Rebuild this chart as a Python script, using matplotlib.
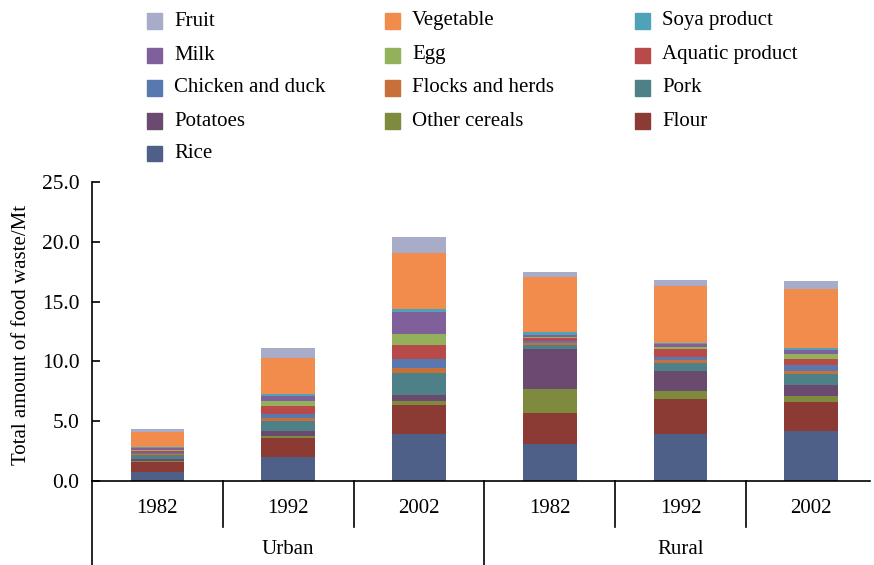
import matplotlib.pyplot as plt
from matplotlib.patches import Rectangle
import numpy as np

plt.rcParams['font.family'] = ['Liberation Serif', 'DejaVu Serif']

areas = ["Urban", "Rural"]
years = ["1982", "1992", "2002", "1982", "1992", "2002"]

# bottom to top
foods = ["Rice", "Flour", "Other cereals", "Potatoes", "Pork", "Flocks and herds",
         "Chicken and duck", "Aquatic product", "Egg", "Milk", "Soya product",
         "Vegetable", "Fruit"]

rice = [0.78, 2.03, 3.95, 3.12, 3.93, 4.15]
flour = [0.84, 1.56, 2.40, 2.57, 2.93, 2.48]
other_cereals = [0.08, 0.17, 0.31, 2.01, 0.64, 0.47]
potatoes = [0.15, 0.42, 0.55, 3.32, 1.70, 0.92]
pork = [0.30, 0.86, 1.79, 0.39, 0.70, 0.95]
flocks = [0.08, 0.25, 0.47, 0.17, 0.20, 0.22]
chicken = [0.10, 0.33, 0.70, 0.14, 0.28, 0.47]
aquatic = [0.15, 0.64, 1.22, 0.20, 0.64, 0.53]
egg = [0.10, 0.39, 0.87, 0.11, 0.20, 0.47]
milk = [0.15, 0.50, 1.89, 0.22, 0.20, 0.28]
soya = [0.08, 0.11, 0.25, 0.17, 0.14, 0.22]
vegetable = [1.25, 3.04, 4.63, 4.68, 4.77, 4.88]
fruit = [0.25, 0.79, 1.34, 0.42, 0.50, 0.67]

series = [rice, flour, other_cereals, potatoes, pork, flocks, chicken,
          aquatic, egg, milk, soya, vegetable, fruit]
colors = ["#4E6088", "#8C3A34", "#7E8A3E", "#6B4A70", "#4E8088", "#C8703A",
          "#5A78B0", "#B84A4A", "#93B05A", "#80609A", "#4FA3B8", "#F28C4C",
          "#A8ACC8"]
col_of = dict(zip(foods, colors))

W, H = 874, 565
fig = plt.figure(figsize=(W / 100, H / 100), dpi=100)
ax = fig.add_axes([0.1053, 0.1487, 0.8902, 0.529])

x = np.arange(len(years))
bottom = np.zeros(len(years))
for name, vals, c in zip(foods, series, colors):
    ax.bar(x, vals, 0.41, bottom=bottom, color=c, linewidth=0)
    bottom += np.array(vals)

ax.set_xlim(-0.5, 5.45)
ax.set_ylim(0, 25)
ax.set_yticks(np.arange(0, 26, 5))
ax.set_yticklabels(["%.1f" % v for v in np.arange(0, 26, 5)], fontsize=15.5)
ax.tick_params(axis='y', direction='in', length=6, width=1.2, pad=9)
ax.set_ylabel("Total amount of food waste/Mt", fontsize=15)
ax.yaxis.set_label_coords(-0.078, 0.49)

ax.set_xticks(x)
ax.set_xticklabels(years, fontsize=15)
ax.tick_params(axis='x', length=0, pad=13)

for s in ["top", "right"]:
    ax.spines[s].set_visible(False)
ax.spines["left"].set_linewidth(1.2)
ax.spines["bottom"].set_linewidth(1.2)

# separators under the axis
trans = ax.get_xaxis_transform()
for sx in [0.5, 1.5, 3.5, 4.5]:
    ax.plot([sx, sx], [0, -0.154], color="black", lw=1.2, transform=trans, clip_on=False)
for sx in [-0.5, 2.5]:
    ax.plot([sx, sx], [0, -0.30], color="black", lw=1.2, transform=trans, clip_on=False)
for gx, g in zip([1, 4], areas):
    ax.text(gx, -0.23, g, transform=trans, ha="center", va="center", fontsize=15)

# legend laid out by hand: 3 columns, row-wise
legend_rows = [["Fruit", "Vegetable", "Soya product"],
               ["Milk", "Egg", "Aquatic product"],
               ["Chicken and duck", "Flocks and herds", "Pork"],
               ["Potatoes", "Other cereals", "Flour"],
               ["Rice"]]
col_x = [147, 385, 635]
row_y = [21, 55, 88, 121, 154]
sq = 15
for r, names in enumerate(legend_rows):
    for c, name in enumerate(names):
        px, py = col_x[c], row_y[r]
        fig.patches.append(Rectangle((px / W, 1 - (py + sq / 2) / H), sq / W, sq / H,
                                     transform=fig.transFigure, color=col_of[name]))
        fig.text((px + 27) / W, 1 - py / H, name, ha="left", va="center", fontsize=15)

fig.savefig("out.png", dpi=100)
